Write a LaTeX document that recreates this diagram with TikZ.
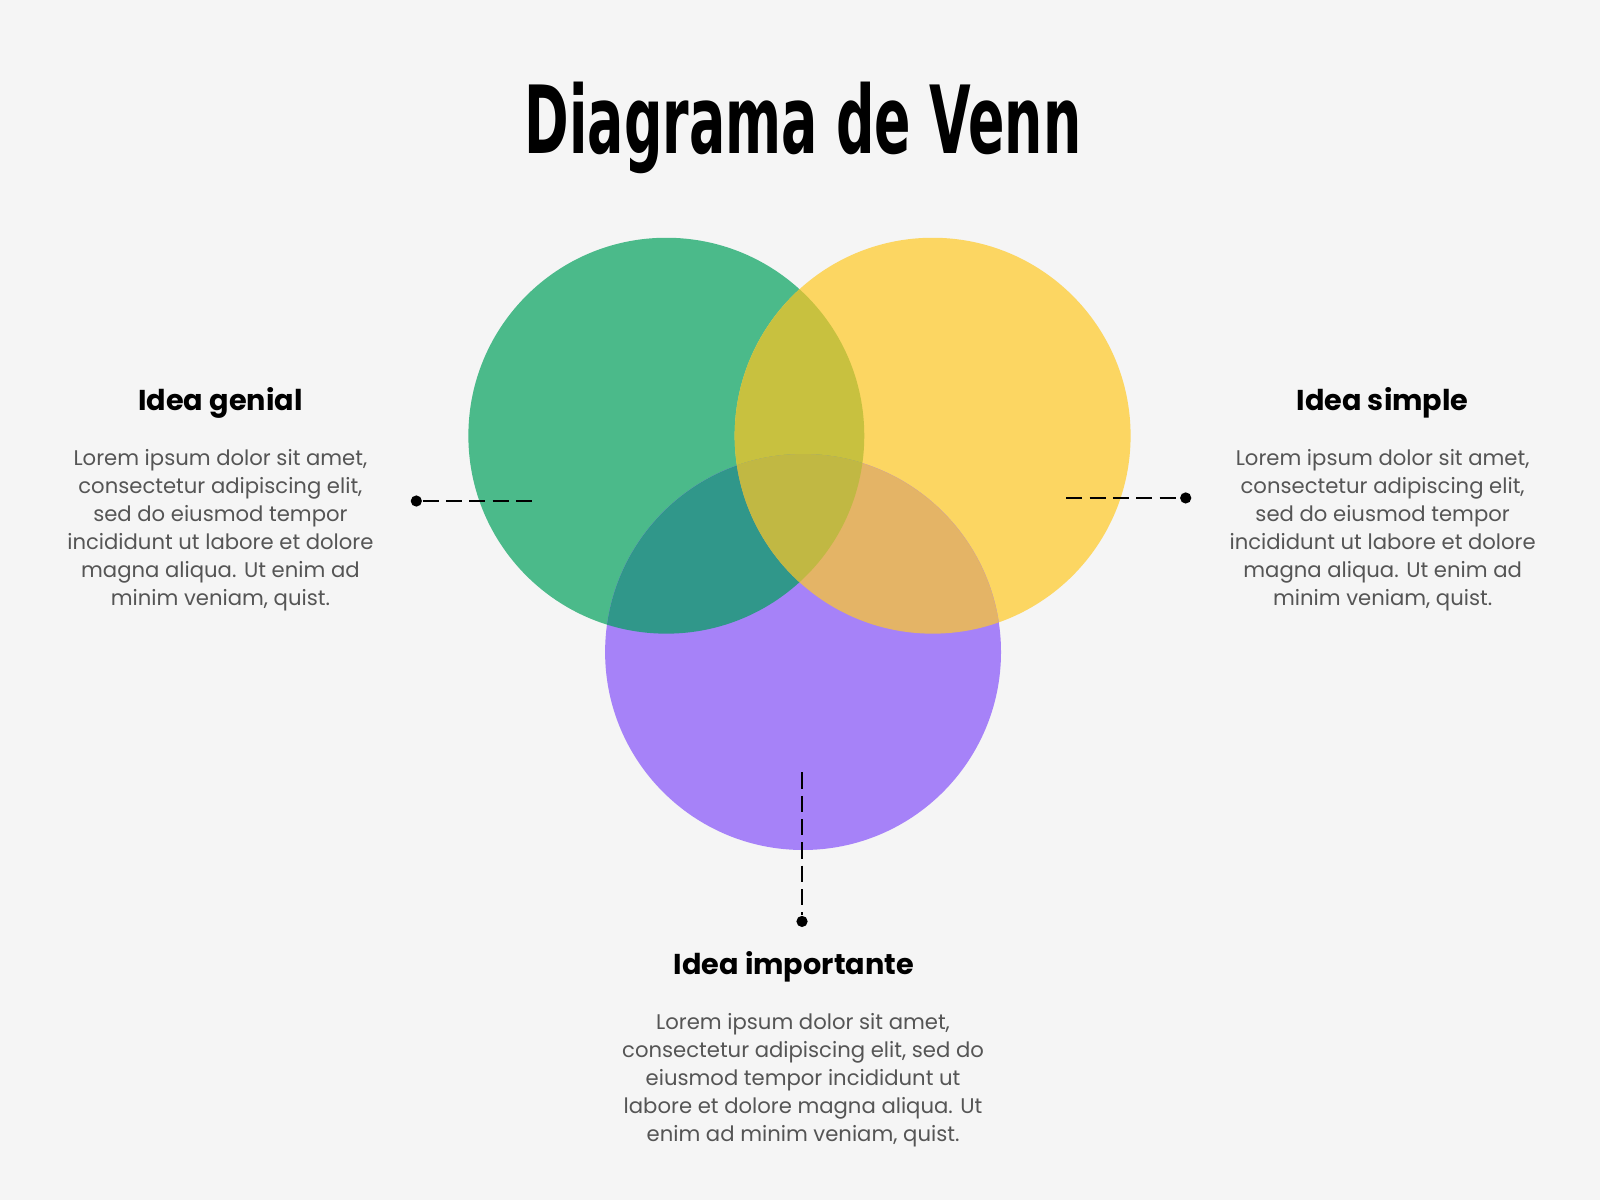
\documentclass[tikz,border=0pt]{standalone}
\usepackage{fontspec}
\setmainfont{Poppins}
\newfontfamily\titlefont{DejaVu Sans Condensed}
\definecolor{bg}{HTML}{F5F5F5}
\definecolor{cg}{HTML}{4BBA8A}
\definecolor{cy}{HTML}{FCD662}
\definecolor{cp}{HTML}{A682F8}
\definecolor{cgy}{HTML}{C8C13F}
\definecolor{cgp}{HTML}{30978A}
\definecolor{cyp}{HTML}{E4B466}
\definecolor{cgyp}{HTML}{C1B843}
\definecolor{txt}{HTML}{555555}
\tikzset{
 body/.style={align=center,text=txt,font=\fontsize{5.9pt}{7.8pt}\selectfont,anchor=north,inner sep=0pt},
 head/.style={font=\fontsize{8pt}{9pt}\selectfont\bfseries,anchor=base,inner sep=0pt},
 lead/.style={densely dashed,dash pattern=on 4.5pt off 2pt,line width=0.7pt},
 dot/.style={circle,fill=black,inner sep=0pt,minimum size=0.11cm}
}
\begin{document}
\begin{tikzpicture}[x=0.01cm,y=-0.01cm]
\fill[bg] (0,0) rectangle (1568,1176);
\useasboundingbox (0,0) rectangle (1568,1176);
\def\G{(653,427) circle[radius=194]}
\def\Y{(914,427) circle[radius=194]}
\def\P{(787,639) circle[radius=194]}
\fill[cg] \G; \fill[cy] \Y; \fill[cp] \P;
\begin{scope}\clip \G; \fill[cgy] \Y; \fill[cgp] \P;\end{scope}
\begin{scope}\clip \Y; \fill[cyp] \P;\end{scope}
\begin{scope}\clip \G; \clip \Y; \fill[cgyp] \P;\end{scope}
\node[anchor=base,inner sep=0pt] (title) at (787,150) {\titlefont\bfseries\resizebox{5.45cm}{0.7cm}{Diagrama de Venn}};
% left
\node[head] (h1) at (216,402) {Idea genial};
\node[body] (b1) at (216,440) {Lorem ipsum dolor sit amet,\\consectetur adipiscing elit,\\sed do eiusmod tempor\\incididunt ut labore et dolore\\magna aliqua. Ut enim ad\\minim veniam, quist.};
\node[dot] (d1) at (408,491) {};
\coordinate (e1) at (526,491);
\draw[lead] (d1) -- (e1);
% right
\node[head] (h2) at (1355,402) {Idea simple};
\node[body] (b2) at (1355,440) {Lorem ipsum dolor sit amet,\\consectetur adipiscing elit,\\sed do eiusmod tempor\\incididunt ut labore et dolore\\magna aliqua. Ut enim ad\\minim veniam, quist.};
\node[dot] (d2) at (1162,488) {};
\coordinate (e2) at (1045,488);
\draw[lead] (e2) -- (d2);
% bottom
\node[head] (h3) at (778,955) {Idea importante};
\node[body] (b3) at (787,992) {Lorem ipsum dolor sit amet,\\consectetur adipiscing elit, sed do\\eiusmod tempor incididunt ut\\labore et dolore magna aliqua. Ut\\enim ad minim veniam, quist.};
\node[dot] (d3) at (786,903) {};
\coordinate (e3) at (786,757);
\draw[lead] (e3) -- (d3);
\end{tikzpicture}
\end{document}
